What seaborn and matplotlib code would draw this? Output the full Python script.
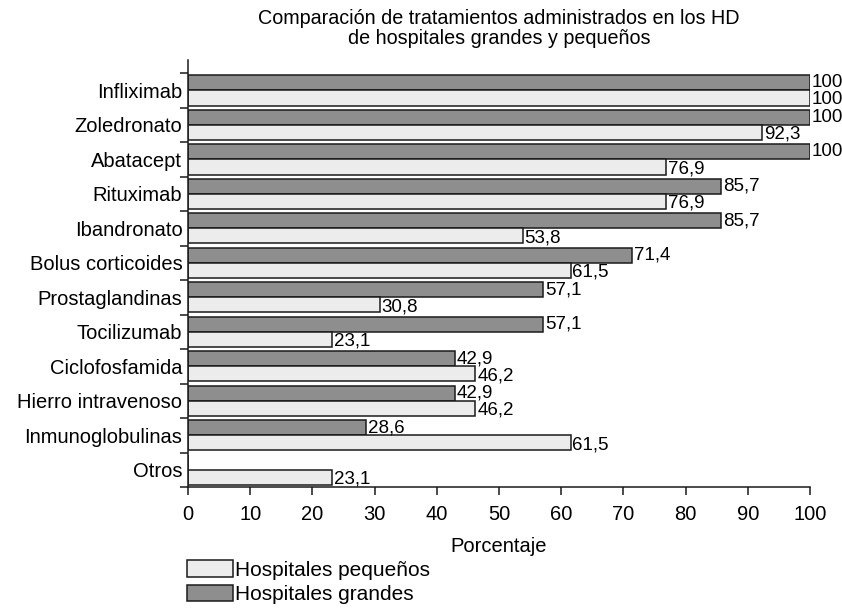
import pandas as pd
import seaborn as sns
import matplotlib.pyplot as plt
from matplotlib.ticker import FixedLocator

# Data
tratamientos = [
    "Infliximab", "Zoledronato", "Abatacept", "Rituximab", "Ibandronato",
    "Bolus corticoides", "Prostaglandinas", "Tocilizumab", "Ciclofosfamida",
    "Hierro intravenoso", "Inmunoglobulinas", "Otros",
]
grandes = [100, 100, 100, 85.7, 85.7, 71.4, 57.1, 57.1, 42.9, 42.9, 28.6, 0]
pequenos = [100, 92.3, 76.9, 76.9, 53.8, 61.5, 30.8, 23.1, 46.2, 46.2, 61.5, 23.1]
series = ["Hospitales grandes", "Hospitales pequeños"]
colores = ["#8e8e8e", "#ececec"]

df = pd.DataFrame({
    "tratamiento": tratamientos * 2,
    "valor": grandes + pequenos,
    "grupo": [series[0]] * len(tratamientos) + [series[1]] * len(tratamientos),
})

sns.set_style("white")
plt.rcParams["font.family"] = ["Liberation Sans", "DejaVu Sans"]
plt.rcParams["text.color"] = "black"
plt.rcParams["axes.labelcolor"] = "black"
plt.rcParams["xtick.color"] = "black"
plt.rcParams["ytick.color"] = "black"

fig = plt.figure(figsize=(8.42, 6.10), dpi=100)
ax = fig.add_axes([188 / 842, 1 - 487 / 610, (810 - 188) / 842, (487 - 60) / 610])

sns.barplot(
    data=df, x="valor", y="tratamiento", hue="grupo", hue_order=series,
    order=tratamientos, palette=colores, orient="h", width=0.88,
    edgecolor="#1a1a1a", linewidth=1.1, saturation=1, legend=False, ax=ax,
)

# value labels
for i, cont in enumerate(ax.containers):
    for bar in cont:
        w = bar.get_width()
        if not w or w != w:
            continue
        txt = f"{w:.1f}".replace(".", ",")
        if txt.endswith(",0"):
            txt = txt[:-2]
        yoff = 0.05 if i == 1 else 0.0
        ax.text(w + 0.3, bar.get_y() + bar.get_height() / 2 + yoff, txt,
                va="center", ha="left", fontsize=13.5, clip_on=False)

ax.set_xlim(0, 100)
ax.set_ylim(len(tratamientos) - 0.5, -0.88)
ax.set_xticks(range(0, 101, 10))
ax.yaxis.set_minor_locator(FixedLocator([k - 0.5 for k in range(len(tratamientos) + 1)]))
ax.tick_params(axis="y", which="major", length=0, labelsize=14.5, pad=4)
ax.tick_params(axis="y", which="minor", length=6, width=1.1, color="#1a1a1a", direction="out", left=True)
ax.tick_params(axis="x", length=6, width=1.1, color="#1a1a1a", direction="out", labelsize=14.5, pad=7, bottom=True)

for s in ["top", "right"]:
    ax.spines[s].set_visible(False)
for s in ["left", "bottom"]:
    ax.spines[s].set_color("#1a1a1a")
    ax.spines[s].set_linewidth(1.1)

ax.set_xlabel("Porcentaje", fontsize=14.5, labelpad=9)
ax.set_ylabel("")
fig.suptitle("Comparación de tratamientos administrados en los HD\nde hospitales grandes y pequeños",
             x=(188 + 810) / 2 / 842, y=1 - 9 / 610, fontsize=14.2, linespacing=1.1)

# legend below the plot: small hospitals first
handles = [ax.containers[1].patches[0], ax.containers[0].patches[0]]
fig.legend(handles, [series[1], series[0]], loc="upper left",
           bbox_to_anchor=(187 / 842, 1 - 560 / 610), frameon=False, fontsize=15,
           handlelength=2.2, handleheight=0.85, handletextpad=0.1, labelspacing=0.25,
           borderaxespad=0, borderpad=0)

fig.savefig("out.png", dpi=100)
